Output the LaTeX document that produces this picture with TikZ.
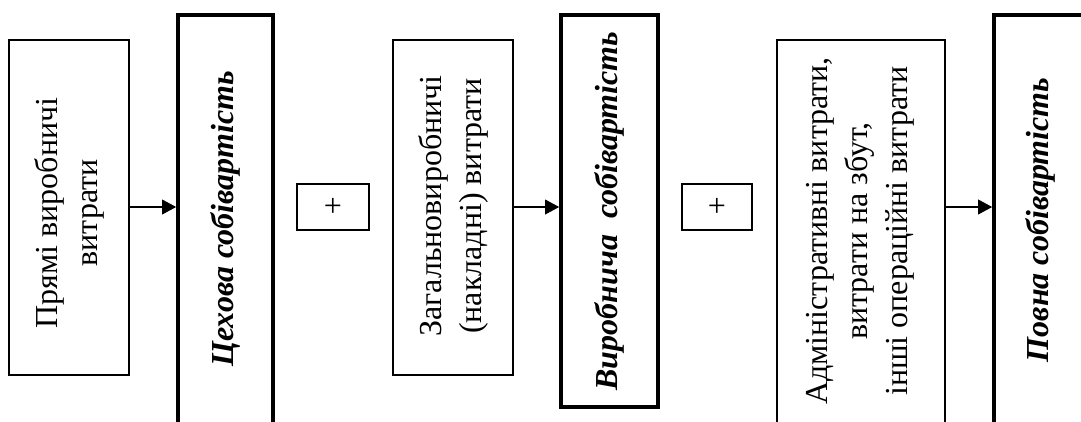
\documentclass[tikz,border=0pt]{standalone}
\usepackage{fontspec}
\setmainfont{Liberation Serif}
\usetikzlibrary{arrows.meta,positioning,fit}
\tikzset{
  costbox/.style={rectangle, draw=black, line width=1.1pt, inner sep=0pt},
  sumbox/.style={rectangle, draw=black, line width=2.7pt, inner sep=0pt},
  plusbox/.style={rectangle, draw=black, line width=1.1pt, inner sep=0pt},
  plustext/.style={inner sep=0pt, font=\fontsize{24}{30}\selectfont},
  vtext/.style={rotate=90, align=center, inner sep=0pt, font=\fontsize{24}{30}\selectfont},
  vsum/.style={rotate=90, align=center, inner sep=0pt, font=\fontsize{24}{30}\selectfont\bfseries\itshape},
  flow/.style={-{Triangle[length=10.5pt, width=11pt]}, line width=1.1pt},
}

\begin{document}
\begin{tikzpicture}[x=0.75pt, y=-0.75pt]
  \useasboundingbox (0,0) rectangle (1081,421);
  \clip (0,0) rectangle (1081,421);
  % cost boxes
  \node[costbox, fit={(9,40) (129,375)}] (b1) {};
  \node[costbox, fit={(393,40) (513,375)}] (b2) {};
  \node[costbox, fit={(777,40) (945,460)}] (b3) {};
  % cost totals
  \node[sumbox, fit={(178,15) (273,460)}] (c1) {};
  \node[sumbox, fit={(561,15) (658,407)}] (c2) {};
  \node[sumbox, fit={(994,15) (1089,460)}] (c3) {};
  % plus signs
  \node[plusbox, fit={(297,184) (369,230)}] (p1) {};
  \node[plusbox, fit={(682,184) (752,230)}] (p2) {};
  \node[plustext] (plus1) at (p1) {+};
  \node[plustext] (plus2) at (p2) {+};
  % texts
  \node[vtext] (t1) at (69,213) {Прямі виробничі\\витрати};
  \node[vtext] (t2) at (453,206) {Загальновиробничі\\(накладні) витрати};
  \node[vtext] (t3) at (860,231) {Адміністративні витрати,\\витрати на збут,\\інші операційні витрати};
  \node[vsum] (s1) at (225,219) {Цехова собівартість};
  \node[vsum] (s2) at (609,211) {Виробнича~~собівартість};
  \node[vsum] (s3) at (1040,220) {Повна собівартість};
  % arrows
  \draw[flow] (p1 -| b1.east) -- (p1 -| c1.west);
  \draw[flow] (p1 -| b2.east) -- (p1 -| c2.west);
  \draw[flow] (p2 -| b3.east) -- (p2 -| c3.west);
\end{tikzpicture}
\end{document}
